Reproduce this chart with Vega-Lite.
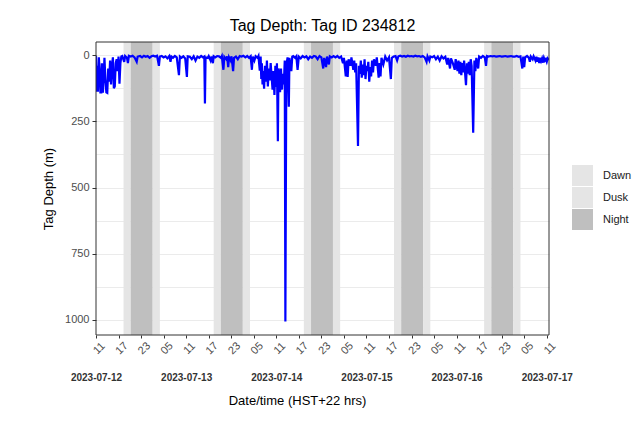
{
"$schema": "https://vega.github.io/schema/vega-lite/v6.json",
"width": 453, "height": 293,
"autosize": {"type": "none"},
"padding": {"left": 96, "top": 42, "right": 92, "bottom": 92},
"background": "white",
"title": {"text": "Tag Depth: Tag ID 234812", "fontSize": 16, "font": "Liberation Sans", "fontWeight": "normal", "color": "black", "anchor": "middle", "frame": "group", "offset": 8},
"config": {"view": {"stroke": null}, "font": "Liberation Sans"},
"datasets": {
"bands": [
{"s":"2023-07-12T18:20Z","e":"2023-07-12T20:15Z","p":"Dusk"},
{"s":"2023-07-12T20:15Z","e":"2023-07-13T02:05Z","p":"Night"},
{"s":"2023-07-13T02:05Z","e":"2023-07-13T04:00Z","p":"Dawn"},
{"s":"2023-07-13T18:20Z","e":"2023-07-13T20:15Z","p":"Dusk"},
{"s":"2023-07-13T20:15Z","e":"2023-07-14T02:05Z","p":"Night"},
{"s":"2023-07-14T02:05Z","e":"2023-07-14T04:00Z","p":"Dawn"},
{"s":"2023-07-14T18:20Z","e":"2023-07-14T20:15Z","p":"Dusk"},
{"s":"2023-07-14T20:15Z","e":"2023-07-15T02:05Z","p":"Night"},
{"s":"2023-07-15T02:05Z","e":"2023-07-15T04:00Z","p":"Dawn"},
{"s":"2023-07-15T18:20Z","e":"2023-07-15T20:15Z","p":"Dusk"},
{"s":"2023-07-15T20:15Z","e":"2023-07-16T02:05Z","p":"Night"},
{"s":"2023-07-16T02:05Z","e":"2023-07-16T04:00Z","p":"Dawn"},
{"s":"2023-07-16T18:20Z","e":"2023-07-16T20:15Z","p":"Dusk"},
{"s":"2023-07-16T20:15Z","e":"2023-07-17T02:05Z","p":"Night"},
{"s":"2023-07-17T02:05Z","e":"2023-07-17T04:00Z","p":"Dawn"}
],
"depth": [
{"t":"2023-07-12T11:00Z","d":3},{"t":"2023-07-12T11:10Z","d":138},{"t":"2023-07-12T11:20Z","d":40},{"t":"2023-07-12T11:30Z","d":138},
{"t":"2023-07-12T11:45Z","d":8},{"t":"2023-07-12T12:00Z","d":60},{"t":"2023-07-12T12:10Z","d":140},{"t":"2023-07-12T12:25Z","d":140},
{"t":"2023-07-12T12:35Z","d":30},{"t":"2023-07-12T12:50Z","d":142},{"t":"2023-07-12T13:05Z","d":70},{"t":"2023-07-12T13:15Z","d":10},
{"t":"2023-07-12T13:30Z","d":90},{"t":"2023-07-12T13:45Z","d":140},{"t":"2023-07-12T14:00Z","d":142},{"t":"2023-07-12T14:15Z","d":50},
{"t":"2023-07-12T14:30Z","d":100},{"t":"2023-07-12T14:45Z","d":20},{"t":"2023-07-12T15:00Z","d":110},{"t":"2023-07-12T15:15Z","d":40},
{"t":"2023-07-12T15:30Z","d":8},{"t":"2023-07-12T15:45Z","d":125},{"t":"2023-07-12T16:00Z","d":118},{"t":"2023-07-12T16:15Z","d":30},
{"t":"2023-07-12T16:30Z","d":15},{"t":"2023-07-12T16:45Z","d":60},{"t":"2023-07-12T17:00Z","d":5},{"t":"2023-07-12T17:15Z","d":108},
{"t":"2023-07-12T17:30Z","d":30},{"t":"2023-07-12T17:45Z","d":5},{"t":"2023-07-12T18:00Z","d":3},{"t":"2023-07-12T18:30Z","d":25},
{"t":"2023-07-12T18:45Z","d":3},{"t":"2023-07-12T19:15Z","d":10},{"t":"2023-07-12T19:30Z","d":30},{"t":"2023-07-12T19:45Z","d":2},
{"t":"2023-07-12T20:15Z","d":5},{"t":"2023-07-12T20:45Z","d":2},{"t":"2023-07-12T21:15Z","d":8},{"t":"2023-07-12T21:50Z","d":25},
{"t":"2023-07-12T22:05Z","d":5},{"t":"2023-07-12T22:45Z","d":3},{"t":"2023-07-12T23:15Z","d":8},{"t":"2023-07-12T23:45Z","d":2},
{"t":"2023-07-13T00:15Z","d":6},{"t":"2023-07-13T00:45Z","d":3},{"t":"2023-07-13T01:15Z","d":10},{"t":"2023-07-13T01:45Z","d":4},
{"t":"2023-07-13T02:15Z","d":2},{"t":"2023-07-13T02:45Z","d":5},{"t":"2023-07-13T03:15Z","d":2},{"t":"2023-07-13T03:45Z","d":40},
{"t":"2023-07-13T04:00Z","d":5},{"t":"2023-07-13T04:30Z","d":3},{"t":"2023-07-13T05:00Z","d":8},{"t":"2023-07-13T05:30Z","d":4},
{"t":"2023-07-13T06:00Z","d":12},{"t":"2023-07-13T06:30Z","d":3},{"t":"2023-07-13T06:50Z","d":25},{"t":"2023-07-13T07:05Z","d":5},
{"t":"2023-07-13T07:30Z","d":10},{"t":"2023-07-13T08:00Z","d":3},{"t":"2023-07-13T08:30Z","d":8},{"t":"2023-07-13T09:05Z","d":75},
{"t":"2023-07-13T09:20Z","d":5},{"t":"2023-07-13T09:45Z","d":10},{"t":"2023-07-13T10:15Z","d":4},{"t":"2023-07-13T10:45Z","d":12},
{"t":"2023-07-13T11:12Z","d":82},{"t":"2023-07-13T11:25Z","d":4},{"t":"2023-07-13T12:00Z","d":6},{"t":"2023-07-13T12:30Z","d":15},
{"t":"2023-07-13T13:00Z","d":4},{"t":"2023-07-13T13:30Z","d":20},{"t":"2023-07-13T14:00Z","d":5},{"t":"2023-07-13T14:30Z","d":10},
{"t":"2023-07-13T15:00Z","d":3},{"t":"2023-07-13T15:30Z","d":8},{"t":"2023-07-13T15:50Z","d":5},{"t":"2023-07-13T16:00Z","d":182},
{"t":"2023-07-13T16:10Z","d":8},{"t":"2023-07-13T16:45Z","d":10},{"t":"2023-07-13T17:00Z","d":3},{"t":"2023-07-13T17:30Z","d":20},
{"t":"2023-07-13T17:45Z","d":5},{"t":"2023-07-13T18:07Z","d":30},{"t":"2023-07-13T18:20Z","d":4},{"t":"2023-07-13T18:45Z","d":8},
{"t":"2023-07-13T19:15Z","d":3},{"t":"2023-07-13T19:45Z","d":4},{"t":"2023-07-13T20:15Z","d":10},{"t":"2023-07-13T20:30Z","d":3},
{"t":"2023-07-13T20:55Z","d":55},{"t":"2023-07-13T21:10Z","d":6},{"t":"2023-07-13T21:40Z","d":15},{"t":"2023-07-13T21:55Z","d":4},
{"t":"2023-07-13T22:12Z","d":45},{"t":"2023-07-13T22:25Z","d":8},{"t":"2023-07-13T22:50Z","d":20},{"t":"2023-07-13T23:05Z","d":4},
{"t":"2023-07-13T23:30Z","d":60},{"t":"2023-07-13T23:45Z","d":10},
{"t":"2023-07-14T00:15Z","d":5},{"t":"2023-07-14T00:45Z","d":15},{"t":"2023-07-14T01:15Z","d":3},{"t":"2023-07-14T01:45Z","d":5},
{"t":"2023-07-14T02:15Z","d":2},{"t":"2023-07-14T02:45Z","d":8},{"t":"2023-07-14T03:15Z","d":3},{"t":"2023-07-14T03:45Z","d":10},
{"t":"2023-07-14T04:10Z","d":4},{"t":"2023-07-14T04:30Z","d":55},{"t":"2023-07-14T04:45Z","d":5},{"t":"2023-07-14T05:10Z","d":20},
{"t":"2023-07-14T05:30Z","d":4},{"t":"2023-07-14T06:00Z","d":10},{"t":"2023-07-14T06:15Z","d":3},{"t":"2023-07-14T06:36Z","d":58},
{"t":"2023-07-14T06:50Z","d":5},{"t":"2023-07-14T07:00Z","d":90},{"t":"2023-07-14T07:10Z","d":30},{"t":"2023-07-14T07:20Z","d":110},
{"t":"2023-07-14T07:30Z","d":60},{"t":"2023-07-14T07:45Z","d":126},{"t":"2023-07-14T08:00Z","d":40},{"t":"2023-07-14T08:15Z","d":100},
{"t":"2023-07-14T08:30Z","d":20},{"t":"2023-07-14T08:45Z","d":118},{"t":"2023-07-14T09:00Z","d":50},{"t":"2023-07-14T09:15Z","d":95},
{"t":"2023-07-14T09:30Z","d":30},{"t":"2023-07-14T09:45Z","d":80},{"t":"2023-07-14T10:00Z","d":130},{"t":"2023-07-14T10:15Z","d":60},
{"t":"2023-07-14T10:30Z","d":150},{"t":"2023-07-14T10:45Z","d":40},{"t":"2023-07-14T11:00Z","d":120},{"t":"2023-07-14T11:10Z","d":30},
{"t":"2023-07-14T11:25Z","d":325},{"t":"2023-07-14T11:35Z","d":50},{"t":"2023-07-14T11:50Z","d":80},{"t":"2023-07-14T12:00Z","d":140},
{"t":"2023-07-14T12:15Z","d":50},{"t":"2023-07-14T12:30Z","d":130},{"t":"2023-07-14T12:45Z","d":70},{"t":"2023-07-14T13:00Z","d":110},
{"t":"2023-07-14T13:15Z","d":20},{"t":"2023-07-14T13:25Z","d":1006},{"t":"2023-07-14T13:40Z","d":40},{"t":"2023-07-14T14:00Z","d":8},
{"t":"2023-07-14T14:20Z","d":195},{"t":"2023-07-14T14:30Z","d":10},{"t":"2023-07-14T15:00Z","d":60},{"t":"2023-07-14T15:15Z","d":5},
{"t":"2023-07-14T15:30Z","d":3},{"t":"2023-07-14T16:00Z","d":10},{"t":"2023-07-14T16:20Z","d":4},{"t":"2023-07-14T16:40Z","d":55},
{"t":"2023-07-14T17:00Z","d":5},{"t":"2023-07-14T17:30Z","d":12},{"t":"2023-07-14T18:00Z","d":3},{"t":"2023-07-14T18:30Z","d":8},
{"t":"2023-07-14T19:00Z","d":4},{"t":"2023-07-14T19:30Z","d":15},{"t":"2023-07-14T20:00Z","d":5},{"t":"2023-07-14T20:30Z","d":10},
{"t":"2023-07-14T21:00Z","d":3},{"t":"2023-07-14T21:30Z","d":5},{"t":"2023-07-14T22:00Z","d":15},{"t":"2023-07-14T22:30Z","d":3},
{"t":"2023-07-14T23:00Z","d":8},{"t":"2023-07-14T23:30Z","d":50},{"t":"2023-07-14T23:45Z","d":10},
{"t":"2023-07-15T00:15Z","d":45},{"t":"2023-07-15T00:30Z","d":5},{"t":"2023-07-15T01:00Z","d":35},{"t":"2023-07-15T01:15Z","d":4},
{"t":"2023-07-15T01:45Z","d":8},{"t":"2023-07-15T02:15Z","d":3},{"t":"2023-07-15T02:45Z","d":8},{"t":"2023-07-15T03:15Z","d":3},
{"t":"2023-07-15T03:45Z","d":10},{"t":"2023-07-15T04:15Z","d":5},{"t":"2023-07-15T04:45Z","d":30},{"t":"2023-07-15T05:00Z","d":10},
{"t":"2023-07-15T05:30Z","d":80},{"t":"2023-07-15T05:45Z","d":20},{"t":"2023-07-15T06:00Z","d":82},{"t":"2023-07-15T06:15Z","d":15},
{"t":"2023-07-15T06:45Z","d":40},{"t":"2023-07-15T07:00Z","d":8},{"t":"2023-07-15T07:30Z","d":55},{"t":"2023-07-15T07:45Z","d":20},
{"t":"2023-07-15T08:00Z","d":65},{"t":"2023-07-15T08:15Z","d":30},{"t":"2023-07-15T08:45Z","d":343},{"t":"2023-07-15T09:00Z","d":40},
{"t":"2023-07-15T09:15Z","d":70},{"t":"2023-07-15T09:30Z","d":20},{"t":"2023-07-15T09:45Z","d":85},{"t":"2023-07-15T10:00Z","d":35},
{"t":"2023-07-15T10:15Z","d":75},{"t":"2023-07-15T10:30Z","d":15},{"t":"2023-07-15T10:45Z","d":90},{"t":"2023-07-15T11:00Z","d":40},
{"t":"2023-07-15T11:15Z","d":60},{"t":"2023-07-15T11:30Z","d":25},{"t":"2023-07-15T11:45Z","d":100},{"t":"2023-07-15T12:00Z","d":45},
{"t":"2023-07-15T12:15Z","d":80},{"t":"2023-07-15T12:30Z","d":20},{"t":"2023-07-15T12:45Z","d":65},{"t":"2023-07-15T13:00Z","d":15},
{"t":"2023-07-15T13:30Z","d":40},{"t":"2023-07-15T13:45Z","d":8},{"t":"2023-07-15T14:15Z","d":85},{"t":"2023-07-15T14:30Z","d":30},
{"t":"2023-07-15T14:45Z","d":80},{"t":"2023-07-15T15:00Z","d":10},{"t":"2023-07-15T15:30Z","d":35},{"t":"2023-07-15T16:00Z","d":5},
{"t":"2023-07-15T16:30Z","d":20},{"t":"2023-07-15T17:00Z","d":8},{"t":"2023-07-15T17:30Z","d":90},{"t":"2023-07-15T17:45Z","d":10},
{"t":"2023-07-15T18:15Z","d":5},{"t":"2023-07-15T18:45Z","d":3},{"t":"2023-07-15T19:10Z","d":20},{"t":"2023-07-15T19:30Z","d":4},
{"t":"2023-07-15T20:00Z","d":2},{"t":"2023-07-15T20:30Z","d":5},{"t":"2023-07-15T21:00Z","d":3},{"t":"2023-07-15T21:30Z","d":6},
{"t":"2023-07-15T22:00Z","d":2},{"t":"2023-07-15T22:30Z","d":4},{"t":"2023-07-15T23:00Z","d":3},{"t":"2023-07-15T23:30Z","d":5},
{"t":"2023-07-16T00:00Z","d":2},{"t":"2023-07-16T00:30Z","d":4},{"t":"2023-07-16T01:00Z","d":3},{"t":"2023-07-16T01:30Z","d":6},
{"t":"2023-07-16T02:00Z","d":3},{"t":"2023-07-16T02:30Z","d":8},{"t":"2023-07-16T03:00Z","d":25},{"t":"2023-07-16T03:15Z","d":4},
{"t":"2023-07-16T03:45Z","d":20},{"t":"2023-07-16T04:00Z","d":5},{"t":"2023-07-16T04:30Z","d":8},{"t":"2023-07-16T05:00Z","d":3},
{"t":"2023-07-16T05:30Z","d":15},{"t":"2023-07-16T06:00Z","d":5},{"t":"2023-07-16T06:30Z","d":20},{"t":"2023-07-16T07:00Z","d":4},
{"t":"2023-07-16T07:30Z","d":12},{"t":"2023-07-16T08:00Z","d":6},{"t":"2023-07-16T08:30Z","d":35},{"t":"2023-07-16T08:45Z","d":10},
{"t":"2023-07-16T09:15Z","d":50},{"t":"2023-07-16T09:30Z","d":12},{"t":"2023-07-16T10:00Z","d":30},{"t":"2023-07-16T10:30Z","d":55},
{"t":"2023-07-16T10:45Z","d":15},{"t":"2023-07-16T11:15Z","d":60},{"t":"2023-07-16T11:30Z","d":20},{"t":"2023-07-16T11:45Z","d":70},
{"t":"2023-07-16T12:00Z","d":25},{"t":"2023-07-16T12:15Z","d":75},{"t":"2023-07-16T12:30Z","d":30},{"t":"2023-07-16T12:45Z","d":65},
{"t":"2023-07-16T13:00Z","d":20},{"t":"2023-07-16T13:30Z","d":113},{"t":"2023-07-16T13:45Z","d":30},{"t":"2023-07-16T14:00Z","d":70},
{"t":"2023-07-16T14:15Z","d":25},{"t":"2023-07-16T14:30Z","d":75},{"t":"2023-07-16T14:45Z","d":15},{"t":"2023-07-16T15:00Z","d":40},
{"t":"2023-07-16T15:25Z","d":293},{"t":"2023-07-16T15:45Z","d":20},{"t":"2023-07-16T16:00Z","d":60},{"t":"2023-07-16T16:15Z","d":10},
{"t":"2023-07-16T16:45Z","d":50},{"t":"2023-07-16T17:00Z","d":5},{"t":"2023-07-16T17:30Z","d":10},{"t":"2023-07-16T18:00Z","d":3},
{"t":"2023-07-16T18:30Z","d":8},{"t":"2023-07-16T18:50Z","d":40},{"t":"2023-07-16T19:05Z","d":3},{"t":"2023-07-16T19:30Z","d":5},
{"t":"2023-07-16T20:00Z","d":3},{"t":"2023-07-16T20:30Z","d":4},{"t":"2023-07-16T21:00Z","d":3},{"t":"2023-07-16T21:30Z","d":5},
{"t":"2023-07-16T22:00Z","d":4},{"t":"2023-07-16T22:30Z","d":3},{"t":"2023-07-16T23:00Z","d":5},{"t":"2023-07-16T23:30Z","d":4},
{"t":"2023-07-17T00:00Z","d":3},{"t":"2023-07-17T00:30Z","d":5},{"t":"2023-07-17T01:00Z","d":4},{"t":"2023-07-17T01:30Z","d":3},
{"t":"2023-07-17T02:00Z","d":5},{"t":"2023-07-17T02:30Z","d":5},{"t":"2023-07-17T03:00Z","d":3},{"t":"2023-07-17T03:30Z","d":6},
{"t":"2023-07-17T04:00Z","d":4},{"t":"2023-07-17T04:30Z","d":50},{"t":"2023-07-17T04:45Z","d":5},{"t":"2023-07-17T05:00Z","d":45},
{"t":"2023-07-17T05:15Z","d":8},{"t":"2023-07-17T05:45Z","d":3},{"t":"2023-07-17T06:15Z","d":10},{"t":"2023-07-17T06:30Z","d":25},
{"t":"2023-07-17T06:45Z","d":5},{"t":"2023-07-17T07:15Z","d":15},{"t":"2023-07-17T07:30Z","d":4},{"t":"2023-07-17T08:00Z","d":20},
{"t":"2023-07-17T08:15Z","d":6},{"t":"2023-07-17T08:30Z","d":25},{"t":"2023-07-17T08:45Z","d":8},{"t":"2023-07-17T09:00Z","d":30},
{"t":"2023-07-17T09:15Z","d":10},{"t":"2023-07-17T09:30Z","d":22},{"t":"2023-07-17T09:45Z","d":12},{"t":"2023-07-17T10:00Z","d":28},
{"t":"2023-07-17T10:15Z","d":10},{"t":"2023-07-17T10:30Z","d":20},{"t":"2023-07-17T10:45Z","d":15},{"t":"2023-07-17T11:00Z","d":25},
{"t":"2023-07-17T11:15Z","d":12},{"t":"2023-07-17T11:35Z","d":18}
]
},
"layer": [
{
"data": {"name": "bands"},
"mark": {"type": "rect", "clip": true},
"encoding": {
"x": {"field": "s", "type": "temporal",
 "scale": {"type": "utc", "nice": false, "domain": [{"year":2023,"month":7,"date":12,"hours":11,"utc":true},{"year":2023,"month":7,"date":17,"hours":11,"minutes":36,"utc":true}]},
 "axis": {"orient": "bottom", "title": null, "domain": false, "grid": false,
  "values": [
   {"year":2023,"month":7,"date":12,"hours":11,"utc":true},{"year":2023,"month":7,"date":12,"hours":17,"utc":true},{"year":2023,"month":7,"date":12,"hours":23,"utc":true},
   {"year":2023,"month":7,"date":13,"hours":5,"utc":true},{"year":2023,"month":7,"date":13,"hours":11,"utc":true},{"year":2023,"month":7,"date":13,"hours":17,"utc":true},{"year":2023,"month":7,"date":13,"hours":23,"utc":true},
   {"year":2023,"month":7,"date":14,"hours":5,"utc":true},{"year":2023,"month":7,"date":14,"hours":11,"utc":true},{"year":2023,"month":7,"date":14,"hours":17,"utc":true},{"year":2023,"month":7,"date":14,"hours":23,"utc":true},
   {"year":2023,"month":7,"date":15,"hours":5,"utc":true},{"year":2023,"month":7,"date":15,"hours":11,"utc":true},{"year":2023,"month":7,"date":15,"hours":17,"utc":true},{"year":2023,"month":7,"date":15,"hours":23,"utc":true},
   {"year":2023,"month":7,"date":16,"hours":5,"utc":true},{"year":2023,"month":7,"date":16,"hours":11,"utc":true},{"year":2023,"month":7,"date":16,"hours":17,"utc":true},{"year":2023,"month":7,"date":16,"hours":23,"utc":true},
   {"year":2023,"month":7,"date":17,"hours":5,"utc":true},{"year":2023,"month":7,"date":17,"hours":11,"utc":true}
  ],
  "labelExpr": "utcFormat(datum.value, '%H')",
  "labelAngle": -45, "labelAlign": "center", "labelBaseline": "middle",
  "labelPadding": 10, "labelOffset": 3, "labelFontSize": 11, "labelColor": "#4d4d4d",
  "labelFlush": false, "labelOverlap": false, "labelBound": false,
  "tickSize": 3, "tickColor": "#333333"}},
"x2": {"field": "e"},
"color": {"field": "p", "type": "nominal",
 "scale": {"domain": ["Dawn", "Dusk", "Night"], "range": ["#e5e5e5", "#e5e5e5", "#bfbfbf"]},
 "legend": {"title": null, "orient": "none", "legendX": 476, "legendY": 123, "symbolType": "square", "symbolSize": 441, "symbolStrokeWidth": 0, "symbolOpacity": 1, "labelFontSize": 11, "labelColor": "#1a1a1a", "labelOffset": 10, "rowPadding": 1, "padding": 0}}
}
},
{
"data": {"name": "depth"},
"mark": {"type": "line", "color": "#0000ff", "strokeWidth": 2.2, "clip": true},
"encoding": {
"x": {"field": "t", "type": "temporal",
 "axis": {"orient": "bottom", "domain": false, "grid": false, "ticks": false, "offset": 36,
  "values": [
   {"year":2023,"month":7,"date":12,"hours":11,"utc":true},{"year":2023,"month":7,"date":13,"hours":11,"utc":true},{"year":2023,"month":7,"date":14,"hours":11,"utc":true},
   {"year":2023,"month":7,"date":15,"hours":11,"utc":true},{"year":2023,"month":7,"date":16,"hours":11,"utc":true},{"year":2023,"month":7,"date":17,"hours":11,"utc":true}
  ],
  "labelExpr": "utcFormat(datum.value, '%Y-%m-%d')",
  "labelFontWeight": "bold", "labelFontSize": 10, "labelColor": "#333333", "labelPadding": 1,
  "labelFlush": false, "labelOverlap": false, "labelBound": false,
  "title": "Date/time (HST+22 hrs)", "titleFontSize": 13, "titleFontWeight": "normal", "titleColor": "black", "titlePadding": 12, "titleX": 201}},
"y": {"field": "d", "type": "quantitative",
 "scale": {"domain": [-50, 1057], "reverse": true, "nice": false, "zero": false},
 "axis": {"orient": "left", "values": [0, 125, 250, 375, 500, 625, 750, 875, 1000], "format": "d",
  "labelExpr": "datum.value % 250 === 0 ? datum.label : ''",
  "tickOpacity": {"condition": {"test": "datum.value % 250 === 0", "value": 1}, "value": 0},
  "grid": true, "gridColor": "#ebebeb", "domain": false, "tickSize": 4, "tickColor": "#333333",
  "labelFontSize": 11, "labelColor": "#4d4d4d", "labelPadding": 3,
  "title": "Tag Depth (m)", "titleFontSize": 13, "titleFontWeight": "normal", "titleColor": "black", "titlePadding": 9}}
}
},
{
"data": {"values": [{}]},
"mark": {"type": "rect", "filled": false, "color": "#333333", "strokeWidth": 1},
"encoding": {
"x": {"datum": {"year":2023,"month":7,"date":12,"hours":11,"utc":true}, "type": "temporal", "axis": null},
"x2": {"datum": {"year":2023,"month":7,"date":17,"hours":11,"minutes":36,"utc":true}},
"y": {"datum": -50, "type": "quantitative", "axis": null},
"y2": {"datum": 1057}
}
}
],
"resolve": {"axis": {"x": "independent", "y": "independent"}}
}
